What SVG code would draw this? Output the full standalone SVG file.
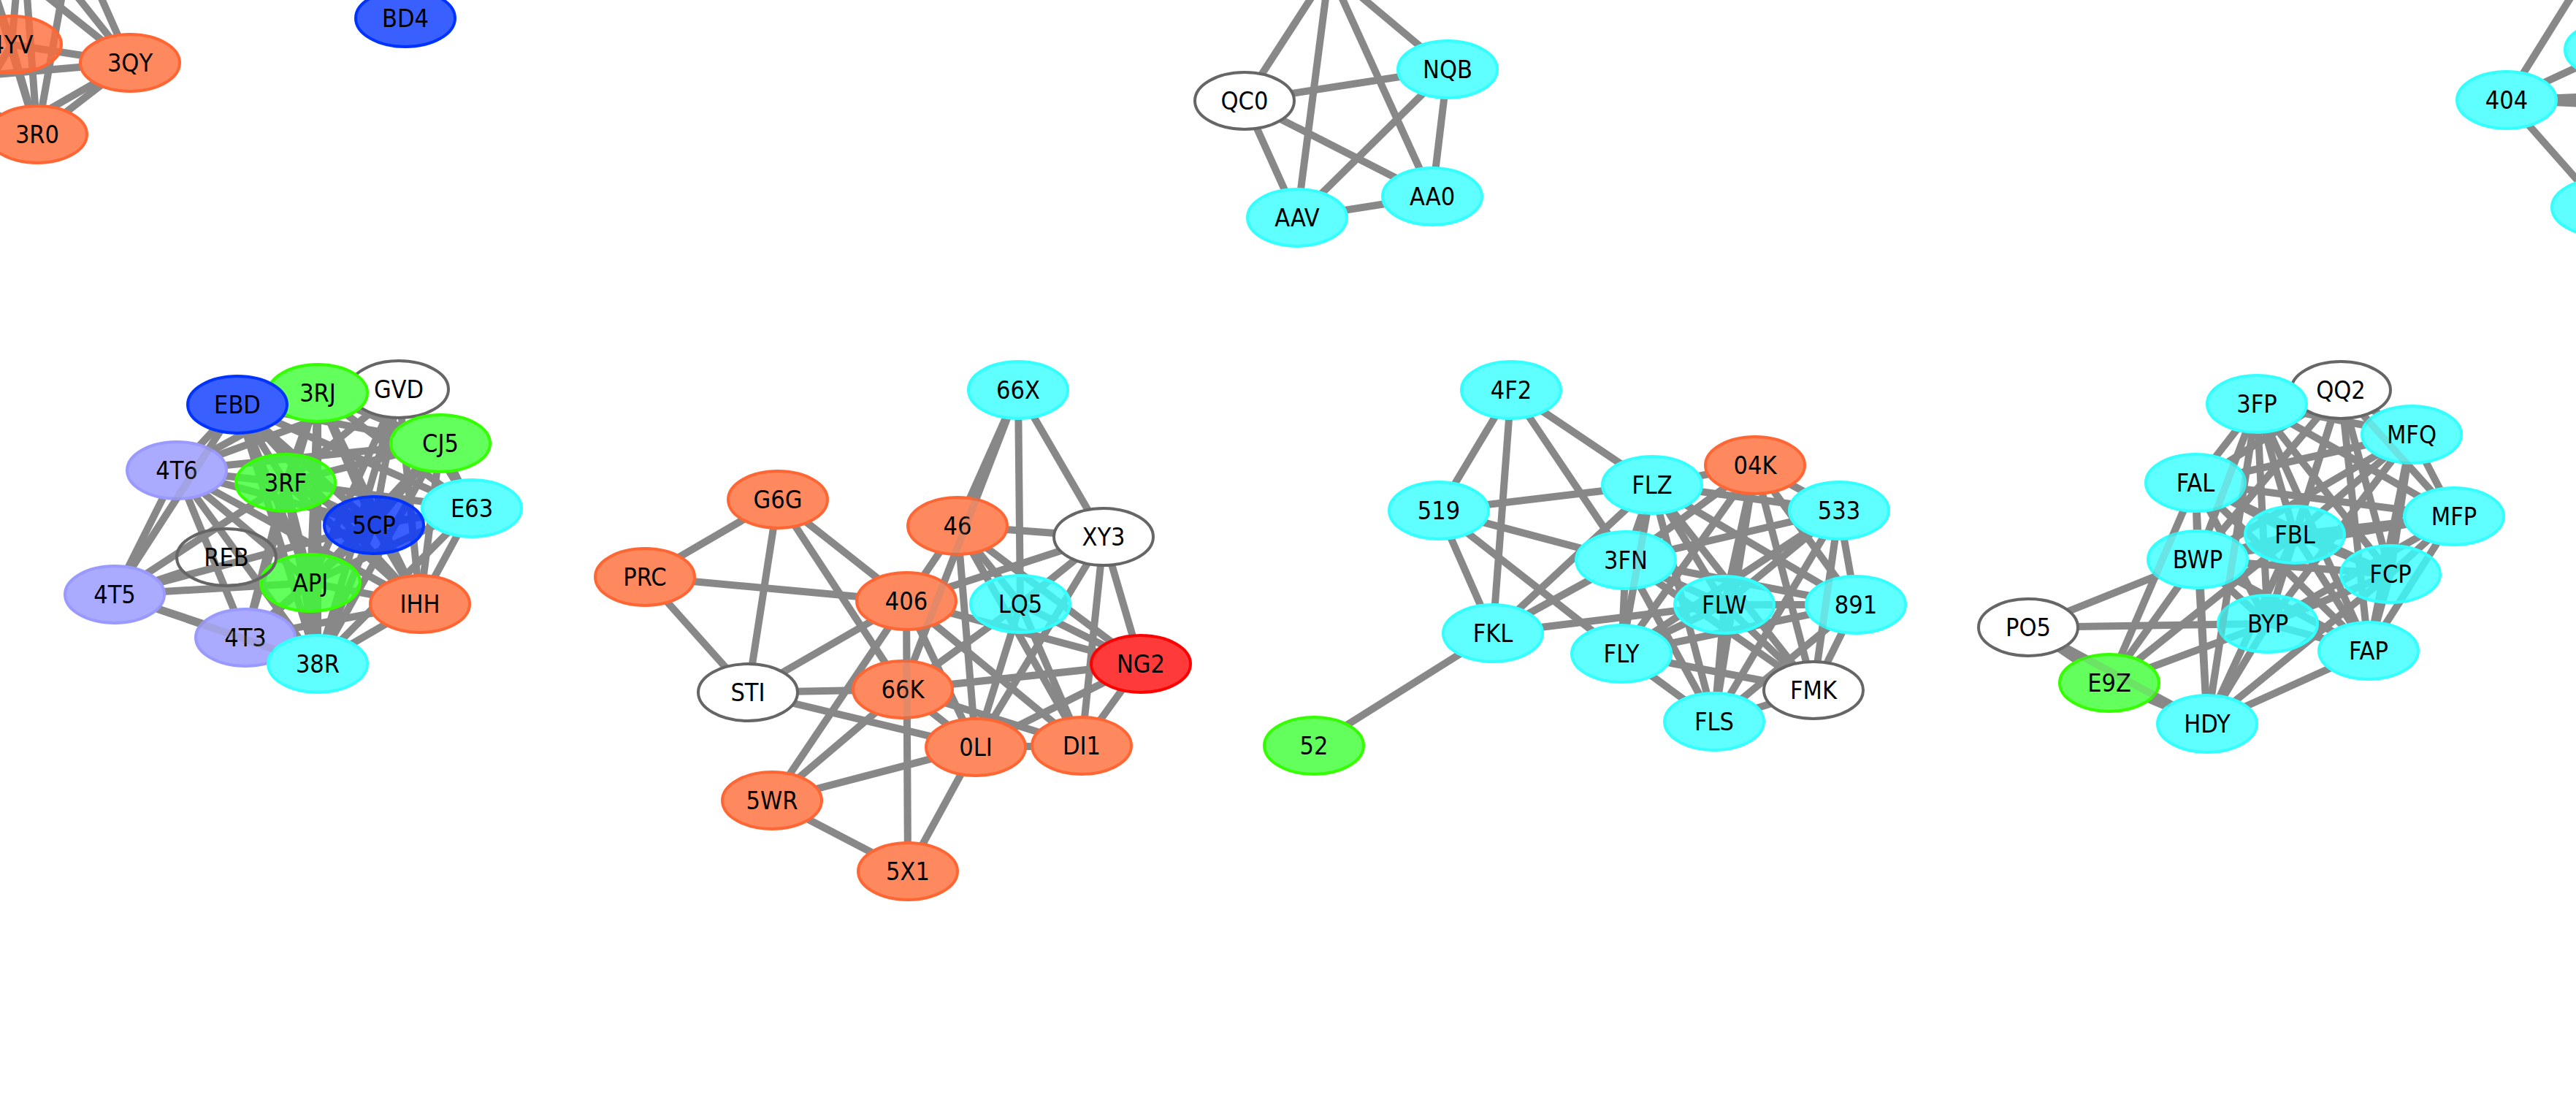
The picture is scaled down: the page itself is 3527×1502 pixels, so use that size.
<svg xmlns="http://www.w3.org/2000/svg" width="3527" height="1502" viewBox="0 0 3527 1502">
<style>
.e line{stroke:#888888;stroke-width:10}
.o line{stroke:#888888;stroke-width:10;opacity:.22}
ellipse{stroke-width:4}
.or{fill:#FF895F;stroke:#FF6633}
.cy{fill:#60FFFF;stroke:#33FFFF}
.cyt{fill:#38FFFF;fill-opacity:.8;stroke:#33FFFF}
.gr{fill:#63FF5C;stroke:#33FF00}
.grt{fill:#3CFF33;fill-opacity:.8;stroke:#33FF00}
.bl{fill:#3A5FFF;stroke:#0033FF}
.blt{fill:#0937FF;fill-opacity:.8;stroke:#0033FF}
.ort{fill:#FF6C38;fill-opacity:.8;stroke:#FF6633}
.lv{fill:#AAAAFF;stroke:#9999FF}
.rd{fill:#FF3A3A;stroke:#FF0000}
.wh{fill:#FFFFFF;stroke:#666666}
.tr{fill:none;stroke:#666666}
text{font-family:"DejaVu Sans Condensed","DejaVu Sans",sans-serif;font-stretch:condensed;font-size:34px;text-anchor:middle;fill:#000000}
</style>
<rect width="3527" height="1502" fill="#FFFFFF"/>
<g id="connectors" class="e">
<line x1="178" y1="86" x2="100" y2="-90"/>
<line x1="178" y1="86" x2="30" y2="-100"/>
<line x1="178" y1="86" x2="-30" y2="-80"/>
<line x1="178" y1="86" x2="-100" y2="110"/>
<line x1="178" y1="86" x2="51" y2="184"/>
<line x1="178" y1="86" x2="16" y2="61"/>
<line x1="178" y1="86" x2="-90" y2="240"/>
<line x1="51" y1="184" x2="-30" y2="-80"/>
<line x1="51" y1="184" x2="30" y2="-100"/>
<line x1="51" y1="184" x2="100" y2="-90"/>
<line x1="51" y1="184" x2="-100" y2="110"/>
<line x1="51" y1="184" x2="-90" y2="240"/>
<line x1="51" y1="184" x2="16" y2="61"/>
<line x1="16" y1="61" x2="-30" y2="-80"/>
<line x1="16" y1="61" x2="30" y2="-100"/>
<line x1="16" y1="61" x2="-90" y2="240"/>
<line x1="1704" y1="138" x2="1982" y2="95"/>
<line x1="1704" y1="138" x2="1776" y2="298"/>
<line x1="1704" y1="138" x2="1961" y2="269"/>
<line x1="1982" y1="95" x2="1776" y2="298"/>
<line x1="1982" y1="95" x2="1961" y2="269"/>
<line x1="1776" y1="298" x2="1961" y2="269"/>
<line x1="1820" y1="-41" x2="1704" y2="138"/>
<line x1="1820" y1="-41" x2="1776" y2="298"/>
<line x1="1820" y1="-41" x2="1961" y2="269"/>
<line x1="1820" y1="-41" x2="1982" y2="95"/>
<line x1="3432" y1="137" x2="3555" y2="-60"/>
<line x1="3432" y1="137" x2="3580" y2="68"/>
<line x1="3432" y1="137" x2="3700" y2="126"/>
<line x1="3432" y1="137" x2="3700" y2="150"/>
<line x1="3432" y1="137" x2="3562" y2="284"/>
<line x1="325" y1="554" x2="435" y2="538"/>
<line x1="325" y1="554" x2="546" y2="533"/>
<line x1="325" y1="554" x2="603" y2="607"/>
<line x1="325" y1="554" x2="391" y2="661"/>
<line x1="325" y1="554" x2="646" y2="696"/>
<line x1="325" y1="554" x2="512" y2="719"/>
<line x1="325" y1="554" x2="425" y2="798"/>
<line x1="325" y1="554" x2="575" y2="827"/>
<line x1="325" y1="554" x2="435" y2="909"/>
<line x1="435" y1="538" x2="546" y2="533"/>
<line x1="435" y1="538" x2="603" y2="607"/>
<line x1="435" y1="538" x2="391" y2="661"/>
<line x1="435" y1="538" x2="646" y2="696"/>
<line x1="435" y1="538" x2="512" y2="719"/>
<line x1="435" y1="538" x2="425" y2="798"/>
<line x1="435" y1="538" x2="575" y2="827"/>
<line x1="435" y1="538" x2="435" y2="909"/>
<line x1="546" y1="533" x2="603" y2="607"/>
<line x1="546" y1="533" x2="391" y2="661"/>
<line x1="546" y1="533" x2="646" y2="696"/>
<line x1="546" y1="533" x2="512" y2="719"/>
<line x1="546" y1="533" x2="425" y2="798"/>
<line x1="546" y1="533" x2="575" y2="827"/>
<line x1="546" y1="533" x2="435" y2="909"/>
<line x1="603" y1="607" x2="391" y2="661"/>
<line x1="603" y1="607" x2="646" y2="696"/>
<line x1="603" y1="607" x2="512" y2="719"/>
<line x1="603" y1="607" x2="425" y2="798"/>
<line x1="603" y1="607" x2="575" y2="827"/>
<line x1="603" y1="607" x2="435" y2="909"/>
<line x1="391" y1="661" x2="646" y2="696"/>
<line x1="391" y1="661" x2="512" y2="719"/>
<line x1="391" y1="661" x2="425" y2="798"/>
<line x1="391" y1="661" x2="575" y2="827"/>
<line x1="391" y1="661" x2="435" y2="909"/>
<line x1="646" y1="696" x2="512" y2="719"/>
<line x1="646" y1="696" x2="425" y2="798"/>
<line x1="646" y1="696" x2="575" y2="827"/>
<line x1="646" y1="696" x2="435" y2="909"/>
<line x1="512" y1="719" x2="425" y2="798"/>
<line x1="512" y1="719" x2="575" y2="827"/>
<line x1="512" y1="719" x2="435" y2="909"/>
<line x1="425" y1="798" x2="575" y2="827"/>
<line x1="425" y1="798" x2="435" y2="909"/>
<line x1="575" y1="827" x2="435" y2="909"/>
<line x1="242" y1="644" x2="325" y2="554"/>
<line x1="242" y1="644" x2="435" y2="538"/>
<line x1="242" y1="644" x2="546" y2="533"/>
<line x1="242" y1="644" x2="391" y2="661"/>
<line x1="242" y1="644" x2="512" y2="719"/>
<line x1="242" y1="644" x2="425" y2="798"/>
<line x1="242" y1="644" x2="435" y2="909"/>
<line x1="242" y1="644" x2="336" y2="873"/>
<line x1="242" y1="644" x2="157" y2="814"/>
<line x1="242" y1="644" x2="575" y2="827"/>
<line x1="242" y1="644" x2="603" y2="607"/>
<line x1="157" y1="814" x2="391" y2="661"/>
<line x1="157" y1="814" x2="512" y2="719"/>
<line x1="157" y1="814" x2="425" y2="798"/>
<line x1="157" y1="814" x2="336" y2="873"/>
<line x1="157" y1="814" x2="435" y2="909"/>
<line x1="157" y1="814" x2="325" y2="554"/>
<line x1="157" y1="814" x2="250" y2="783"/>
<line x1="336" y1="873" x2="435" y2="909"/>
<line x1="336" y1="873" x2="391" y2="661"/>
<line x1="336" y1="873" x2="512" y2="719"/>
<line x1="336" y1="873" x2="425" y2="798"/>
<line x1="336" y1="873" x2="435" y2="538"/>
<line x1="336" y1="873" x2="575" y2="827"/>
<line x1="883" y1="790" x2="1065" y2="684"/>
<line x1="883" y1="790" x2="1241" y2="823"/>
<line x1="883" y1="790" x2="1024" y2="948"/>
<line x1="1065" y1="684" x2="1024" y2="948"/>
<line x1="1065" y1="684" x2="1241" y2="823"/>
<line x1="1065" y1="684" x2="1236" y2="944"/>
<line x1="1394" y1="534" x2="1311" y2="720"/>
<line x1="1394" y1="534" x2="1236" y2="944"/>
<line x1="1394" y1="534" x2="1397" y2="827"/>
<line x1="1394" y1="534" x2="1511" y2="735"/>
<line x1="1311" y1="720" x2="1511" y2="735"/>
<line x1="1311" y1="720" x2="1336" y2="1023"/>
<line x1="1311" y1="720" x2="1562" y2="909"/>
<line x1="1311" y1="720" x2="1481" y2="1021"/>
<line x1="1311" y1="720" x2="1397" y2="827"/>
<line x1="1311" y1="720" x2="1241" y2="823"/>
<line x1="1241" y1="823" x2="1511" y2="735"/>
<line x1="1241" y1="823" x2="1562" y2="909"/>
<line x1="1241" y1="823" x2="1336" y2="1023"/>
<line x1="1241" y1="823" x2="1481" y2="1021"/>
<line x1="1241" y1="823" x2="1057" y2="1096"/>
<line x1="1241" y1="823" x2="1243" y2="1193"/>
<line x1="1241" y1="823" x2="1024" y2="948"/>
<line x1="1024" y1="948" x2="1236" y2="944"/>
<line x1="1024" y1="948" x2="1336" y2="1023"/>
<line x1="1236" y1="944" x2="1397" y2="827"/>
<line x1="1236" y1="944" x2="1562" y2="909"/>
<line x1="1236" y1="944" x2="1336" y2="1023"/>
<line x1="1236" y1="944" x2="1481" y2="1021"/>
<line x1="1397" y1="827" x2="1336" y2="1023"/>
<line x1="1397" y1="827" x2="1481" y2="1021"/>
<line x1="1397" y1="827" x2="1562" y2="909"/>
<line x1="1397" y1="827" x2="1511" y2="735"/>
<line x1="1511" y1="735" x2="1336" y2="1023"/>
<line x1="1511" y1="735" x2="1481" y2="1021"/>
<line x1="1511" y1="735" x2="1562" y2="909"/>
<line x1="1562" y1="909" x2="1481" y2="1021"/>
<line x1="1562" y1="909" x2="1336" y2="1023"/>
<line x1="1336" y1="1023" x2="1481" y2="1021"/>
<line x1="1057" y1="1096" x2="1236" y2="944"/>
<line x1="1057" y1="1096" x2="1336" y2="1023"/>
<line x1="1057" y1="1096" x2="1243" y2="1193"/>
<line x1="1243" y1="1193" x2="1336" y2="1023"/>
<line x1="2069" y1="534" x2="1970" y2="699"/>
<line x1="2069" y1="534" x2="2044" y2="867"/>
<line x1="2069" y1="534" x2="2262" y2="664"/>
<line x1="2069" y1="534" x2="2226" y2="767"/>
<line x1="1970" y1="699" x2="2262" y2="664"/>
<line x1="1970" y1="699" x2="2044" y2="867"/>
<line x1="1970" y1="699" x2="2226" y2="767"/>
<line x1="1970" y1="699" x2="2220" y2="895"/>
<line x1="2044" y1="867" x2="2262" y2="664"/>
<line x1="2044" y1="867" x2="2226" y2="767"/>
<line x1="2044" y1="867" x2="2361" y2="828"/>
<line x1="2044" y1="867" x2="1799" y2="1021"/>
<line x1="2262" y1="664" x2="2403" y2="637"/>
<line x1="2262" y1="664" x2="2518" y2="699"/>
<line x1="2262" y1="664" x2="2226" y2="767"/>
<line x1="2262" y1="664" x2="2361" y2="828"/>
<line x1="2262" y1="664" x2="2541" y2="828"/>
<line x1="2262" y1="664" x2="2220" y2="895"/>
<line x1="2262" y1="664" x2="2483" y2="945"/>
<line x1="2262" y1="664" x2="2347" y2="988"/>
<line x1="2403" y1="637" x2="2518" y2="699"/>
<line x1="2403" y1="637" x2="2226" y2="767"/>
<line x1="2403" y1="637" x2="2361" y2="828"/>
<line x1="2403" y1="637" x2="2541" y2="828"/>
<line x1="2403" y1="637" x2="2220" y2="895"/>
<line x1="2403" y1="637" x2="2483" y2="945"/>
<line x1="2403" y1="637" x2="2347" y2="988"/>
<line x1="2518" y1="699" x2="2226" y2="767"/>
<line x1="2518" y1="699" x2="2361" y2="828"/>
<line x1="2518" y1="699" x2="2541" y2="828"/>
<line x1="2518" y1="699" x2="2220" y2="895"/>
<line x1="2518" y1="699" x2="2483" y2="945"/>
<line x1="2518" y1="699" x2="2347" y2="988"/>
<line x1="2226" y1="767" x2="2361" y2="828"/>
<line x1="2226" y1="767" x2="2541" y2="828"/>
<line x1="2226" y1="767" x2="2220" y2="895"/>
<line x1="2226" y1="767" x2="2483" y2="945"/>
<line x1="2226" y1="767" x2="2347" y2="988"/>
<line x1="2361" y1="828" x2="2541" y2="828"/>
<line x1="2361" y1="828" x2="2220" y2="895"/>
<line x1="2361" y1="828" x2="2483" y2="945"/>
<line x1="2361" y1="828" x2="2347" y2="988"/>
<line x1="2541" y1="828" x2="2220" y2="895"/>
<line x1="2541" y1="828" x2="2483" y2="945"/>
<line x1="2541" y1="828" x2="2347" y2="988"/>
<line x1="2220" y1="895" x2="2483" y2="945"/>
<line x1="2220" y1="895" x2="2347" y2="988"/>
<line x1="2483" y1="945" x2="2347" y2="988"/>
<line x1="3090" y1="553" x2="3205" y2="534"/>
<line x1="3090" y1="553" x2="3302" y2="595"/>
<line x1="3090" y1="553" x2="3006" y2="661"/>
<line x1="3090" y1="553" x2="3360" y2="707"/>
<line x1="3090" y1="553" x2="3142" y2="732"/>
<line x1="3090" y1="553" x2="3009" y2="766"/>
<line x1="3090" y1="553" x2="3273" y2="786"/>
<line x1="3090" y1="553" x2="3105" y2="854"/>
<line x1="3090" y1="553" x2="3243" y2="891"/>
<line x1="3205" y1="534" x2="3302" y2="595"/>
<line x1="3205" y1="534" x2="3006" y2="661"/>
<line x1="3205" y1="534" x2="3360" y2="707"/>
<line x1="3205" y1="534" x2="3142" y2="732"/>
<line x1="3205" y1="534" x2="3009" y2="766"/>
<line x1="3205" y1="534" x2="3273" y2="786"/>
<line x1="3205" y1="534" x2="3105" y2="854"/>
<line x1="3205" y1="534" x2="3243" y2="891"/>
<line x1="3302" y1="595" x2="3006" y2="661"/>
<line x1="3302" y1="595" x2="3360" y2="707"/>
<line x1="3302" y1="595" x2="3142" y2="732"/>
<line x1="3302" y1="595" x2="3009" y2="766"/>
<line x1="3302" y1="595" x2="3273" y2="786"/>
<line x1="3302" y1="595" x2="3105" y2="854"/>
<line x1="3302" y1="595" x2="3243" y2="891"/>
<line x1="3006" y1="661" x2="3360" y2="707"/>
<line x1="3006" y1="661" x2="3142" y2="732"/>
<line x1="3006" y1="661" x2="3009" y2="766"/>
<line x1="3006" y1="661" x2="3273" y2="786"/>
<line x1="3006" y1="661" x2="3105" y2="854"/>
<line x1="3006" y1="661" x2="3243" y2="891"/>
<line x1="3360" y1="707" x2="3142" y2="732"/>
<line x1="3360" y1="707" x2="3009" y2="766"/>
<line x1="3360" y1="707" x2="3273" y2="786"/>
<line x1="3360" y1="707" x2="3105" y2="854"/>
<line x1="3360" y1="707" x2="3243" y2="891"/>
<line x1="3142" y1="732" x2="3009" y2="766"/>
<line x1="3142" y1="732" x2="3273" y2="786"/>
<line x1="3142" y1="732" x2="3105" y2="854"/>
<line x1="3142" y1="732" x2="3243" y2="891"/>
<line x1="3009" y1="766" x2="3273" y2="786"/>
<line x1="3009" y1="766" x2="3105" y2="854"/>
<line x1="3009" y1="766" x2="3243" y2="891"/>
<line x1="3273" y1="786" x2="3105" y2="854"/>
<line x1="3273" y1="786" x2="3243" y2="891"/>
<line x1="3105" y1="854" x2="3243" y2="891"/>
<line x1="3022" y1="991" x2="3009" y2="766"/>
<line x1="3022" y1="991" x2="3006" y2="661"/>
<line x1="3022" y1="991" x2="3105" y2="854"/>
<line x1="3022" y1="991" x2="3142" y2="732"/>
<line x1="3022" y1="991" x2="3243" y2="891"/>
<line x1="3022" y1="991" x2="3273" y2="786"/>
<line x1="3022" y1="991" x2="3090" y2="553"/>
<line x1="3022" y1="991" x2="2888" y2="935"/>
<line x1="2888" y1="935" x2="2777" y2="859"/>
<line x1="2888" y1="935" x2="3006" y2="661"/>
<line x1="2888" y1="935" x2="3009" y2="766"/>
<line x1="2888" y1="935" x2="3142" y2="732"/>
<line x1="2888" y1="935" x2="3105" y2="854"/>
<line x1="2777" y1="859" x2="3009" y2="766"/>
<line x1="2777" y1="859" x2="3105" y2="854"/>
<line x1="2777" y1="859" x2="3022" y2="991"/>
</g>
<g id="nodes">
<g id="n-4YV"><ellipse class="ort" cx="16" cy="61" rx="68" ry="39"/><text x="16" y="73">4YV</text></g>
<g id="n-3QY"><ellipse class="or" cx="178" cy="86" rx="68" ry="39"/><text x="178" y="98">3QY</text></g>
<g id="n-3R0"><ellipse class="or" cx="51" cy="184" rx="68" ry="39"/><text x="51" y="196">3R0</text></g>
<g id="n-BD4"><ellipse class="bl" cx="555" cy="25" rx="68" ry="39"/><text x="555" y="37">BD4</text></g>
<g id="n-QC0"><ellipse class="wh" cx="1704" cy="138" rx="68" ry="39"/><text x="1704" y="150">QC0</text></g>
<g id="n-NQB"><ellipse class="cy" cx="1982" cy="95" rx="68" ry="39"/><text x="1982" y="107">NQB</text></g>
<g id="n-AAV"><ellipse class="cy" cx="1776" cy="298" rx="68" ry="39"/><text x="1776" y="310">AAV</text></g>
<g id="n-AA0"><ellipse class="cy" cx="1961" cy="269" rx="68" ry="39"/><text x="1961" y="281">AA0</text></g>
<g id="n-404"><ellipse class="cy" cx="3432" cy="137" rx="68" ry="39"/><text x="3432" y="149">404</text></g>
<g id="n-R1"><ellipse class="cy" cx="3580" cy="68" rx="68" ry="39"/></g>
<g id="n-R2"><ellipse class="cy" cx="3562" cy="284" rx="68" ry="39"/></g>
<g id="n-GVD"><ellipse class="wh" cx="546" cy="533" rx="68" ry="39"/><text x="546" y="545">GVD</text></g>
<g id="n-3RJ"><ellipse class="gr" cx="435" cy="538" rx="68" ry="39"/><text x="435" y="550">3RJ</text></g>
<g id="n-EBD"><ellipse class="bl" cx="325" cy="554" rx="68" ry="39"/><text x="325" y="566">EBD</text></g>
<g id="n-CJ5"><ellipse class="gr" cx="603" cy="607" rx="68" ry="39"/><text x="603" y="619">CJ5</text></g>
<g id="n-4T6"><ellipse class="lv" cx="242" cy="644" rx="68" ry="39"/><text x="242" y="656">4T6</text></g>
<g id="n-3RF"><ellipse class="grt" cx="391" cy="661" rx="68" ry="39"/><text x="391" y="673">3RF</text></g>
<g id="n-E63"><ellipse class="cy" cx="646" cy="696" rx="68" ry="39"/><text x="646" y="708">E63</text></g>
<g id="n-5CP"><ellipse class="blt" cx="512" cy="719" rx="68" ry="39"/><text x="512" y="731">5CP</text></g>
<g id="n-APJ"><ellipse class="grt" cx="425" cy="798" rx="68" ry="39"/><text x="425" y="810">APJ</text></g>
<g id="n-REB"><ellipse class="tr" cx="310" cy="763" rx="68" ry="39"/><text x="310" y="775">REB</text></g>
<g id="n-IHH"><ellipse class="or" cx="575" cy="827" rx="68" ry="39"/><text x="575" y="839">IHH</text></g>
<g id="n-4T5"><ellipse class="lv" cx="157" cy="814" rx="68" ry="39"/><text x="157" y="826">4T5</text></g>
<g id="n-4T3"><ellipse class="lv" cx="336" cy="873" rx="68" ry="39"/><text x="336" y="885">4T3</text></g>
<g id="n-38R"><ellipse class="cy" cx="435" cy="909" rx="68" ry="39"/><text x="435" y="921">38R</text></g>
<g id="n-66X"><ellipse class="cy" cx="1394" cy="534" rx="68" ry="39"/><text x="1394" y="546">66X</text></g>
<g id="n-G6G"><ellipse class="or" cx="1065" cy="684" rx="68" ry="39"/><text x="1065" y="696">G6G</text></g>
<g id="n-46"><ellipse class="or" cx="1311" cy="720" rx="68" ry="39"/><text x="1311" y="732">46</text></g>
<g id="n-XY3"><ellipse class="wh" cx="1511" cy="735" rx="68" ry="39"/><text x="1511" y="747">XY3</text></g>
<g id="n-PRC"><ellipse class="or" cx="883" cy="790" rx="68" ry="39"/><text x="883" y="802">PRC</text></g>
<g id="n-406"><ellipse class="or" cx="1241" cy="823" rx="68" ry="39"/><text x="1241" y="835">406</text></g>
<g id="n-LQ5"><ellipse class="cyt" cx="1397" cy="827" rx="68" ry="39"/><text x="1397" y="839">LQ5</text></g>
<g id="n-NG2"><ellipse class="rd" cx="1562" cy="909" rx="68" ry="39"/><text x="1562" y="921">NG2</text></g>
<g id="n-STI"><ellipse class="wh" cx="1024" cy="948" rx="68" ry="39"/><text x="1024" y="960">STI</text></g>
<g id="n-66K"><ellipse class="or" cx="1236" cy="944" rx="68" ry="39"/><text x="1236" y="956">66K</text></g>
<g id="n-0LI"><ellipse class="or" cx="1336" cy="1023" rx="68" ry="39"/><text x="1336" y="1035">0LI</text></g>
<g id="n-DI1"><ellipse class="or" cx="1481" cy="1021" rx="68" ry="39"/><text x="1481" y="1033">DI1</text></g>
<g id="n-5WR"><ellipse class="or" cx="1057" cy="1096" rx="68" ry="39"/><text x="1057" y="1108">5WR</text></g>
<g id="n-5X1"><ellipse class="or" cx="1243" cy="1193" rx="68" ry="39"/><text x="1243" y="1205">5X1</text></g>
<g id="n-4F2"><ellipse class="cy" cx="2069" cy="534" rx="68" ry="39"/><text x="2069" y="546">4F2</text></g>
<g id="n-04K"><ellipse class="or" cx="2403" cy="637" rx="68" ry="39"/><text x="2403" y="649">04K</text></g>
<g id="n-FLZ"><ellipse class="cy" cx="2262" cy="664" rx="68" ry="39"/><text x="2262" y="676">FLZ</text></g>
<g id="n-519"><ellipse class="cy" cx="1970" cy="699" rx="68" ry="39"/><text x="1970" y="711">519</text></g>
<g id="n-533"><ellipse class="cy" cx="2518" cy="699" rx="68" ry="39"/><text x="2518" y="711">533</text></g>
<g id="n-3FN"><ellipse class="cy" cx="2226" cy="767" rx="68" ry="39"/><text x="2226" y="779">3FN</text></g>
<g id="n-FLW"><ellipse class="cyt" cx="2361" cy="828" rx="68" ry="39"/><text x="2361" y="840">FLW</text></g>
<g id="n-891"><ellipse class="cy" cx="2541" cy="828" rx="68" ry="39"/><text x="2541" y="840">891</text></g>
<g id="n-FKL"><ellipse class="cy" cx="2044" cy="867" rx="68" ry="39"/><text x="2044" y="879">FKL</text></g>
<g id="n-FLY"><ellipse class="cy" cx="2220" cy="895" rx="68" ry="39"/><text x="2220" y="907">FLY</text></g>
<g id="n-FLS"><ellipse class="cy" cx="2347" cy="988" rx="68" ry="39"/><text x="2347" y="1000">FLS</text></g>
<g id="n-FMK"><ellipse class="wh" cx="2483" cy="945" rx="68" ry="39"/><text x="2483" y="957">FMK</text></g>
<g id="n-52"><ellipse class="gr" cx="1799" cy="1021" rx="68" ry="39"/><text x="1799" y="1033">52</text></g>
<g id="n-QQ2"><ellipse class="wh" cx="3205" cy="534" rx="68" ry="39"/><text x="3205" y="546">QQ2</text></g>
<g id="n-3FP"><ellipse class="cy" cx="3090" cy="553" rx="68" ry="39"/><text x="3090" y="565">3FP</text></g>
<g id="n-MFQ"><ellipse class="cy" cx="3302" cy="595" rx="68" ry="39"/><text x="3302" y="607">MFQ</text></g>
<g id="n-FAL"><ellipse class="cy" cx="3006" cy="661" rx="68" ry="39"/><text x="3006" y="673">FAL</text></g>
<g id="n-MFP"><ellipse class="cy" cx="3360" cy="707" rx="68" ry="39"/><text x="3360" y="719">MFP</text></g>
<g id="n-FBL"><ellipse class="cyt" cx="3142" cy="732" rx="68" ry="39"/><text x="3142" y="744">FBL</text></g>
<g id="n-BWP"><ellipse class="cy" cx="3009" cy="766" rx="68" ry="39"/><text x="3009" y="778">BWP</text></g>
<g id="n-FCP"><ellipse class="cyt" cx="3273" cy="786" rx="68" ry="39"/><text x="3273" y="798">FCP</text></g>
<g id="n-BYP"><ellipse class="cyt" cx="3105" cy="854" rx="68" ry="39"/><text x="3105" y="866">BYP</text></g>
<g id="n-PO5"><ellipse class="wh" cx="2777" cy="859" rx="68" ry="39"/><text x="2777" y="871">PO5</text></g>
<g id="n-FAP"><ellipse class="cy" cx="3243" cy="891" rx="68" ry="39"/><text x="3243" y="903">FAP</text></g>
<g id="n-E9Z"><ellipse class="gr" cx="2888" cy="935" rx="68" ry="39"/><text x="2888" y="947">E9Z</text></g>
<g id="n-HDY"><ellipse class="cy" cx="3022" cy="991" rx="68" ry="39"/><text x="3022" y="1003">HDY</text></g>
</g>
<g id="passthrough" class="o">
<line x1="1378" y1="576" x2="1252" y2="902"/>
<line x1="1241" y1="866" x2="1243" y2="1150"/>
<line x1="300" y1="593" x2="182" y2="775"/>
<line x1="217" y1="834" x2="375" y2="889"/>
<line x1="2827" y1="886" x2="2972" y2="964"/>
<line x1="3084" y1="593" x2="3028" y2="951"/>
<line x1="2989" y1="700" x2="2905" y2="896"/>
<line x1="3075" y1="592" x2="3024" y2="727"/>
<line x1="2255" y1="704" x2="2227" y2="855"/>
<line x1="2512" y1="740" x2="2489" y2="904"/>
<line x1="3237" y1="570" x2="3328" y2="671"/>
</g>
</svg>
